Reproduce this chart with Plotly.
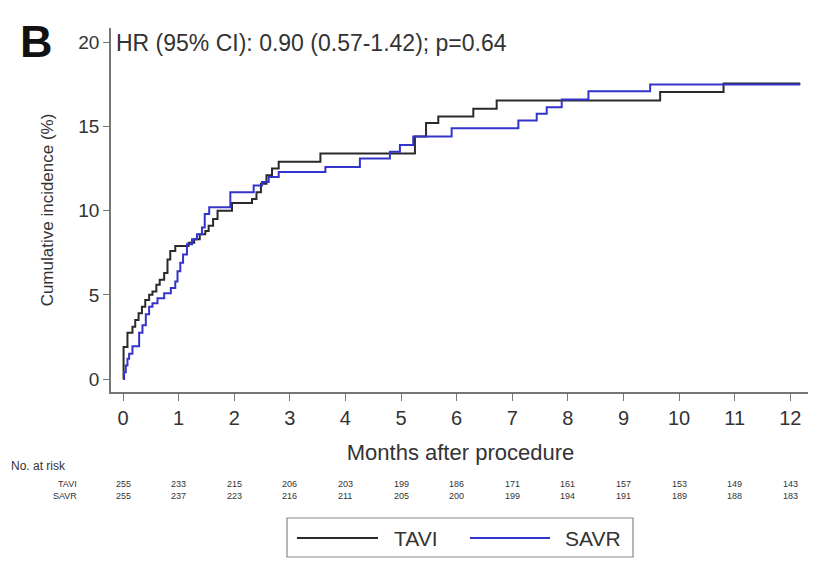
import plotly.graph_objects as go

# ---- data ----
tavi_t = [0, 0.01, 0.08, 0.17, 0.22, 0.28, 0.34, 0.40, 0.47, 0.53, 0.60, 0.66, 0.74, 0.80, 0.85,
          0.94, 1.18, 1.28, 1.38, 1.48, 1.54, 1.62, 1.70, 1.96, 2.32, 2.40, 2.48, 2.58, 2.68,
          2.80, 3.55, 5.25, 5.45, 5.67, 6.30, 6.72, 9.66, 10.80, 12.18]
tavi_v = [0, 1.9, 2.75, 3.1, 3.5, 3.9, 4.3, 4.7, 5.0, 5.2, 5.6, 5.9, 6.3, 7.1, 7.6,
          7.9, 8.1, 8.3, 8.6, 8.8, 9.1, 9.5, 10.0, 10.45, 10.7, 11.1, 11.6, 12.1, 12.5,
          12.9, 13.4, 14.4, 15.2, 15.6, 16.05, 16.55, 17.05, 17.55, 17.55]

savr_t = [0, 0.02, 0.05, 0.08, 0.11, 0.17, 0.29, 0.35, 0.41, 0.47, 0.53, 0.62, 0.74, 0.86,
          0.94, 0.98, 1.03, 1.08, 1.15, 1.24, 1.33, 1.42, 1.47, 1.55, 1.93, 2.35, 2.50,
          2.62, 2.80, 3.64, 4.26, 4.80, 4.98, 5.22, 5.91, 7.11, 7.44, 7.62, 7.89, 8.37,
          9.48, 12.18]
savr_v = [0, 0.4, 0.8, 1.2, 1.5, 1.95, 2.75, 3.2, 3.85, 4.3, 4.5, 4.8, 5.1, 5.4,
          5.8, 6.4, 6.9, 7.4, 8.0, 8.3, 8.6, 9.0, 9.8, 10.2, 11.1, 11.5, 11.7,
          12.0, 12.3, 12.6, 13.1, 13.5, 13.9, 14.4, 14.9, 15.35, 15.75, 16.15, 16.6, 17.1,
          17.5, 17.5]

months = list(range(13))
risk_tavi = [255, 233, 215, 206, 203, 199, 186, 171, 161, 157, 153, 149, 143]
risk_savr = [255, 237, 223, 216, 211, 205, 200, 199, 194, 191, 189, 188, 183]

series_names = ["TAVI", "SAVR"]
series_colors = ["#2a2a2a", "#3434cc"]

FONT = "Liberation Sans, Arial, sans-serif"

fig = go.Figure()
fig.add_trace(go.Scatter(x=tavi_t, y=tavi_v, mode="lines", line_shape="hv",
                         name=series_names[0], line=dict(color=series_colors[0], width=2),
                         showlegend=False))
fig.add_trace(go.Scatter(x=savr_t, y=savr_v, mode="lines", line_shape="hv",
                         name=series_names[1], line=dict(color=series_colors[1], width=2),
                         showlegend=False))

# page body has an 8px margin: figure pixel = screen pixel - 8
OFF = 8
W, H = 808, 554
PL, PR, PT, PB = 111, 810, 28, 392          # plot area in screen pixels
L, R, T, B = PL - OFF, W - (PR - OFF), PT - OFF, H - (PB - OFF)
pw, ph = W - L - R, H - T - B

def px(x):
    return (x - OFF - L) / pw

def py(y):
    return (T + ph - (y - OFF)) / ph

fig.update_layout(
    width=W, height=H,
    margin=dict(l=L, r=R, t=T, b=B, pad=0),
    plot_bgcolor="white", paper_bgcolor="white",
    font=dict(family=FONT, color="#333"),
    xaxis=dict(range=[-0.216, 12.355], tickmode="array", tickvals=months,
               ticktext=[str(m) for m in months],
               showline=True, linecolor="#777", linewidth=1.5,
               ticks="outside", ticklen=7, tickcolor="#777", tickwidth=1.2,
               showgrid=False, zeroline=False, tickfont=dict(size=20, color="#333"),
               title=dict(text="Months after procedure", font=dict(size=22, color="#333"),
                          standoff=17)),
    yaxis=dict(range=[-0.77, 20.85], tickmode="array", tickvals=[0, 5, 10, 15, 20],
               showline=True, linecolor="#777", linewidth=1.5,
               ticks="outside", ticklen=6, tickcolor="#777", tickwidth=1.2,
               showgrid=False, zeroline=False, tickfont=dict(size=19, color="#333"),
               title=dict(text="Cumulative incidence (%)", font=dict(size=17, color="#333"),
                          standoff=20)),
)

ann = []
ann.append(dict(text="<b>B</b>", x=px(18), y=py(42), xref="paper", yref="paper",
                xanchor="left", yanchor="middle", showarrow=False,
                font=dict(size=45, color="#111", family=FONT)))
ann.append(dict(text="HR (95% CI): 0.90 (0.57-1.42); p=0.64", x=px(114), y=py(43),
                xref="paper", yref="paper", xanchor="left", yanchor="middle",
                showarrow=False, font=dict(size=23, color="#333", family=FONT)))
ann.append(dict(text="No. at risk", x=px(9), y=py(466), xref="paper", yref="paper",
                xanchor="left", yanchor="middle", showarrow=False,
                font=dict(size=12, color="#333", family=FONT)))
for lab, yy in [("TAVI", 484), ("SAVR", 496)]:
    ann.append(dict(text=lab, x=px(79), y=py(yy), xref="paper", yref="paper",
                    xanchor="right", yanchor="middle", showarrow=False,
                    font=dict(size=9, color="#333", family=FONT)))
for m, a, b in zip(months, risk_tavi, risk_savr):
    ann.append(dict(text=str(a), x=m, y=py(484), xref="x", yref="paper",
                    xanchor="center", yanchor="middle", showarrow=False,
                    font=dict(size=9, color="#333", family=FONT)))
    ann.append(dict(text=str(b), x=m, y=py(496), xref="x", yref="paper",
                    xanchor="center", yanchor="middle", showarrow=False,
                    font=dict(size=9, color="#333", family=FONT)))

# legend box (drawn)
shapes = [dict(type="rect", xref="paper", yref="paper", x0=px(287), x1=px(633),
               y0=py(557), y1=py(518), line=dict(color="#888", width=1.2))]
leg = [(297, 378, 392, series_names[0], series_colors[0]),
       (470, 550, 563, series_names[1], series_colors[1])]
for x0, x1, xt, name, col in leg:
    shapes.append(dict(type="line", xref="paper", yref="paper", x0=px(x0), x1=px(x1),
                       y0=py(538), y1=py(538), line=dict(color=col, width=2)))
    ann.append(dict(text=name, x=px(xt), y=py(538), xref="paper", yref="paper",
                    xanchor="left", yanchor="middle", showarrow=False,
                    font=dict(size=21, color="#333", family=FONT)))

fig.update_layout(annotations=ann, shapes=shapes)
fig.write_html("out.html")
